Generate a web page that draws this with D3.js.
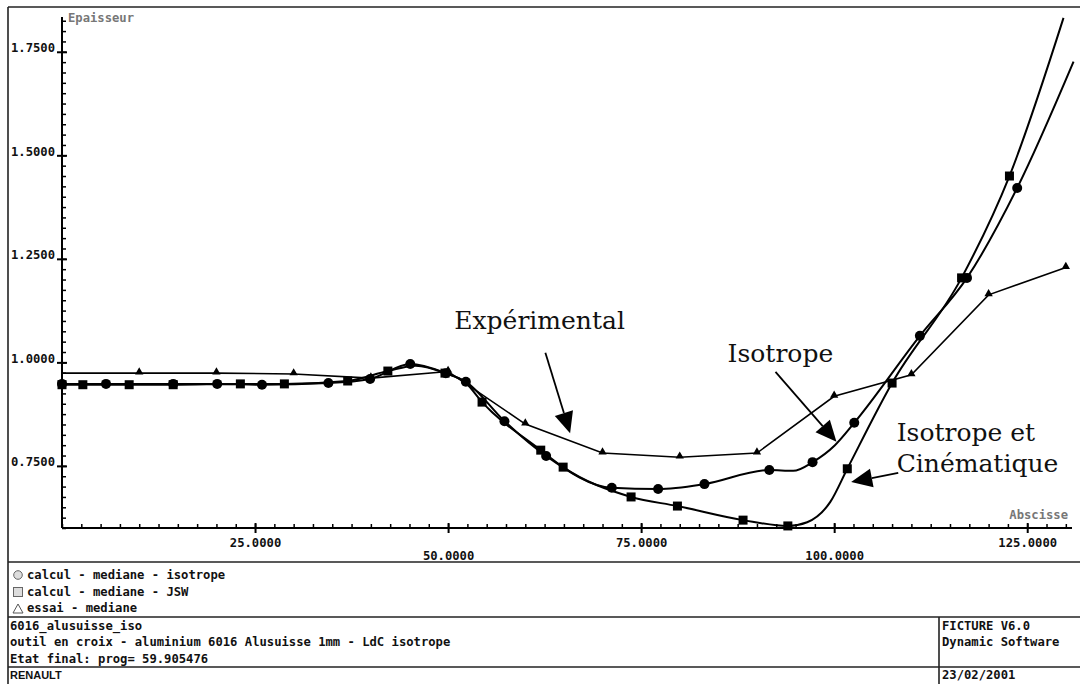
<!DOCTYPE html>
<html>
<head>
<meta charset="utf-8">
<script src="https://cdn.jsdelivr.net/npm/d3@7"></script>
<style>
  html, body { margin: 0; padding: 0; background: #fff; }
  svg { display: block; }
  .mono { font-family: "DejaVu Sans Mono", "Liberation Mono", monospace; font-weight: bold; font-size: 12.2px; fill: #111; }
  .ann { font-family: "DejaVu Serif", "Liberation Serif", serif; font-size: 25px; fill: #111; }
</style>
</head>
<body>
<svg id="chart" width="1080" height="684"></svg>
<script>
// ---------------- data ----------------
// calcul - mediane - isotrope (circles)
const isoX = [0, 5.7, 14.4, 20.1, 25.9, 34.5, 39.9, 45.1, 49.7, 52.3, 57.3, 62.7, 71.2, 77.2, 83.2, 91.6, 97.2, 102.6, 111.1, 117.2, 123.7];
const isoY = [0.948, 0.948, 0.948, 0.948, 0.946, 0.950, 0.960, 0.996, 0.974, 0.953, 0.858, 0.774, 0.697, 0.694, 0.706, 0.740, 0.759, 0.854, 1.064, 1.204, 1.421];
// extra curve nodes without markers
const isoCurveX = [94.7, 100.1, 131.0];
const isoCurveY = [0.738, 0.800, 1.726];

// calcul - mediane - JSW (squares)
const jswX = [0, 2.7, 8.7, 14.4, 23.1, 28.8, 37.0, 42.2, 49.6, 54.4, 62.0, 64.9, 73.7, 79.7, 88.2, 94.0, 101.7, 107.5, 116.5, 122.7];
const jswY = [0.946, 0.946, 0.946, 0.946, 0.948, 0.948, 0.955, 0.979, 0.974, 0.904, 0.788, 0.747, 0.675, 0.653, 0.619, 0.605, 0.743, 0.950, 1.204, 1.450];
const jswCurveX = [45.8, 52.3, 96.5, 99.5, 129.7];
const jswCurveY = [0.992, 0.950, 0.614, 0.663, 1.832];

// essai - mediane (triangles; the first point sits on the axis, no marker shown)
const expX = [0, 10, 20, 30, 40, 50, 60, 70, 80, 90, 100, 110, 120, 130];
const expY = [0.974, 0.974, 0.974, 0.972, 0.962, 0.978, 0.851, 0.781, 0.771, 0.781, 0.918, 0.970, 1.163, 1.229];

// axes
const xMajorTicks = [25, 50, 75, 100, 125];
const yMajorTicks = [0.75, 1.0, 1.25, 1.5, 1.75];
const xDomain = [0, 130.8];
const yDomain = [0.6, 1.834];

// texts
const legendLabels = ["calcul - mediane - isotrope", "calcul - mediane - JSW", "essai - mediane"];
const footerLines = ["6016_alusuisse_iso", "outil en croix - aluminium 6016 Alusuisse 1mm - LdC isotrope", "Etat final: prog= 59.905476"];
const footerRight = ["FICTURE V6.0", "Dynamic Software"];
const companyLabel = "RENAULT";
const dateLabel = "23/02/2001";
const yTitle = "Epaisseur";
const xTitle = "Abscisse";

// annotations (data coords)
const annTexts = [["Expérimental"], ["Isotrope"], ["Isotrope et", "Cinématique"]];
const annTextX = [50.8, 86.2, 108.1];
const annTextY = [1.080, 1.001, 0.809];
const arrowFromX = [62.6, 92.4, 108.3];
const arrowFromY = [1.023, 0.977, 0.733];
const arrowToX = [65.8, 100.3, 102.2];
const arrowToY = [0.829, 0.808, 0.711];

// ---------------- drawing ----------------
const svg = d3.select("#chart");
const x = d3.scaleLinear().domain(xDomain).range([62, 1072]);
const y = d3.scaleLinear().domain(yDomain).range([528, 17]);

// frame
const frame = svg.append("g").attr("stroke", "#222").attr("stroke-width", 1.6).attr("fill", "none");
frame.append("line").attr("x1", 8).attr("x2", 1080).attr("y1", 7).attr("y2", 7);
frame.append("line").attr("x1", 8).attr("x2", 8).attr("y1", 7).attr("y2", 684);
[562, 617, 667].forEach(yy => frame.append("line").attr("x1", 8).attr("x2", 1080).attr("y1", yy).attr("y2", yy));
frame.append("line").attr("x1", 939).attr("x2", 939).attr("y1", 617).attr("y2", 684);

// axes
const gx = svg.append("g").attr("transform", `translate(0,${y(yDomain[0])})`);
gx.call(d3.axisBottom(x).tickValues(d3.range(0, 130.01, 2.5)).tickSize(0).tickFormat(""));
gx.selectAll(".tick line").attr("y1", 0).attr("y2", -4).attr("stroke", "#000").attr("stroke-width", 1.5);
const gxM = svg.append("g").attr("transform", `translate(0,${y(yDomain[0])})`);
gxM.call(d3.axisBottom(x).tickValues(xMajorTicks).tickSize(0).tickFormat(d3.format(".4f")));
gxM.selectAll(".tick line").attr("y1", -5).attr("y2", 5).attr("stroke", "#000").attr("stroke-width", 2);
gxM.selectAll(".tick text").attr("class", "mono").attr("font-family", null).attr("font-size", null)
   .attr("dy", 0).attr("y", (d, i) => i % 2 === 0 ? 19 : 32).attr("fill", "#111");
[gx, gxM].forEach(g => g.select(".domain").remove());
svg.append("line").attr("x1", x(xDomain[0])).attr("x2", x(xDomain[1])).attr("y1", y(yDomain[0])).attr("y2", y(yDomain[0]))
   .attr("stroke", "#000").attr("stroke-width", 2);

const gy = svg.append("g").attr("transform", `translate(${x(0)},0)`);
gy.call(d3.axisLeft(y).tickValues(d3.range(0, 50).map(i => 0.6 + i * 0.025).filter(v => v <= 1.826)).tickSize(0).tickFormat(""));
gy.selectAll(".tick line").attr("x1", 0).attr("x2", 4).attr("stroke", "#000").attr("stroke-width", 1.5);
const gyM = svg.append("g").attr("transform", `translate(${x(0)},0)`);
gyM.call(d3.axisLeft(y).tickValues(yMajorTicks).tickSize(0).tickFormat(d3.format(".4f")));
gyM.selectAll(".tick line").attr("x1", -5).attr("x2", 5).attr("stroke", "#000").attr("stroke-width", 2);
gyM.selectAll(".tick text").attr("class", "mono").attr("font-family", null).attr("font-size", null)
   .attr("dy", 0).attr("x", -7).attr("fill", "#111");
[gy, gyM].forEach(g => g.select(".domain").remove());
svg.append("line").attr("x1", x(0)).attr("x2", x(0)).attr("y1", y(yDomain[0])).attr("y2", y(yDomain[1]))
   .attr("stroke", "#000").attr("stroke-width", 2);

// axis titles
svg.append("text").attr("class", "mono").attr("x", x(0) + 6).attr("y", 22).style("fill", "#777").text(yTitle);
svg.append("text").attr("class", "mono").attr("x", 1068).attr("y", 519).attr("text-anchor", "end").style("fill", "#777").text(xTitle);

// series
function mergePts(xs, ys, cx, cy) {
  const pts = xs.map((v, i) => [v, ys[i]]).concat(cx.map((v, i) => [v, cy[i]]));
  return pts.sort((a, b) => a[0] - b[0]);
}
const lineSmooth = d3.line().x(d => x(d[0])).y(d => y(d[1])).curve(d3.curveMonotoneX);
const lineStraight = d3.line().x(d => x(d[0])).y(d => y(d[1]));

const plot = svg.append("g");
plot.append("path").attr("d", lineStraight(expX.map((v, i) => [v, expY[i]])))
    .attr("fill", "none").attr("stroke", "#000").attr("stroke-width", 1.6);
plot.append("path").attr("d", lineSmooth(mergePts(isoX, isoY, isoCurveX, isoCurveY)))
    .attr("fill", "none").attr("stroke", "#000").attr("stroke-width", 2);
plot.append("path").attr("d", lineSmooth(mergePts(jswX, jswY, jswCurveX, jswCurveY)))
    .attr("fill", "none").attr("stroke", "#000").attr("stroke-width", 2);

const triSym = d3.symbol().type(d3.symbolTriangle).size(30);
plot.selectAll(".tri").data(expX.map((v, i) => [v, expY[i]]).filter(d => d[0] > 0)).join("path")
    .attr("d", triSym).attr("transform", d => `translate(${x(d[0])},${y(d[1]) - 1})`).attr("fill", "#000");
plot.selectAll(".sq").data(jswX.map((v, i) => [v, jswY[i]])).join("rect")
    .attr("x", d => x(d[0]) - 4.5).attr("y", d => y(d[1]) - 4.5).attr("width", 9).attr("height", 9).attr("fill", "#000");
plot.selectAll(".ci").data(isoX.map((v, i) => [v, isoY[i]])).join("circle")
    .attr("cx", d => x(d[0])).attr("cy", d => y(d[1])).attr("r", 5).attr("fill", "#000");

// annotations
const ann = svg.append("g");
annTexts.forEach((lines, i) => {
  lines.forEach((t, j) => {
    ann.append("text").attr("class", "ann").attr("x", x(annTextX[i])).attr("y", y(annTextY[i]) + j * 31).text(t);
  });
  const x1 = x(arrowFromX[i]), y1 = y(arrowFromY[i]), x2 = x(arrowToX[i]), y2 = y(arrowToY[i]);
  const ang = Math.atan2(y2 - y1, x2 - x1);
  const L = 21, W = 9.5;
  const bx = x2 - L * Math.cos(ang), by = y2 - L * Math.sin(ang);
  ann.append("line").attr("x1", x1).attr("y1", y1).attr("x2", bx).attr("y2", by)
     .attr("stroke", "#000").attr("stroke-width", 1.8);
  const px = -Math.sin(ang) * W, py = Math.cos(ang) * W;
  ann.append("path").attr("d", `M${x2},${y2}L${bx + px},${by + py}L${bx - px},${by - py}Z`).attr("fill", "#000");
});

// legend
const legRowY = [579, 596, 612];
const leg = svg.append("g");
legendLabels.forEach((t, i) => {
  leg.append("text").attr("class", "mono").attr("x", 27).attr("y", legRowY[i]).text(t);
});
leg.append("circle").attr("cx", 18).attr("cy", legRowY[0] - 4).attr("r", 4.3).attr("fill", "#ddd").attr("stroke", "#666").attr("stroke-width", 1);
leg.append("rect").attr("x", 13.5).attr("y", legRowY[1] - 8.5).attr("width", 9).attr("height", 9).attr("fill", "#ddd").attr("stroke", "#666").attr("stroke-width", 1);
leg.append("path").attr("d", "M13,617L18,608L23,617Z").attr("transform", `translate(0,${legRowY[2] - 616})`)
   .attr("fill", "#fff").attr("stroke", "#555").attr("stroke-width", 1);

// footer
const footRowY = [630, 646, 663];
footerLines.forEach((t, i) => {
  svg.append("text").attr("class", "mono").attr("x", 10).attr("y", footRowY[i]).text(t);
});
footerRight.forEach((t, i) => {
  svg.append("text").attr("class", "mono").attr("x", 942).attr("y", footRowY[i]).text(t);
});
svg.append("text").attr("x", 10).attr("y", 679).style("font-family", "'Liberation Sans', Arial, sans-serif")
   .style("font-weight", "bold").style("font-size", "11px").style("fill", "#111").text(companyLabel);
svg.append("text").attr("class", "mono").attr("x", 942).attr("y", 679).text(dateLabel);
</script>
</body>
</html>
